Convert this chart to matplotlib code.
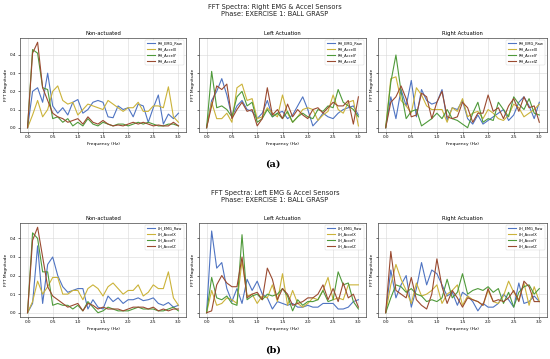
import numpy as np
import matplotlib
matplotlib.use("Agg")
import matplotlib.pyplot as plt

freq = [round(0.1 * i, 1) for i in range(31)]

# ---- Right-hand sensors ----
rh_non_emg = [0, 0.20, 0.22, 0.14, 0.30, 0.12, 0.08, 0.11, 0.07, 0.14, 0.155, 0.08, 0.10, 0.14, 0.15, 0.14, 0.06, 0.055, 0.12, 0.10, 0.11, 0.06, 0.13, 0.12, 0.03, 0.11, 0.18, 0.02, 0.075, 0.05, 0.08]
rh_non_x = [0, 0.07, 0.15, 0.06, 0.10, 0.20, 0.23, 0.15, 0.13, 0.14, 0.07, 0.10, 0.13, 0.12, 0.11, 0.10, 0.15, 0.13, 0.11, 0.09, 0.11, 0.11, 0.14, 0.09, 0.09, 0.12, 0.12, 0.11, 0.225, 0.06, 0.03]
rh_non_y = [0, 0.43, 0.41, 0.22, 0.21, 0.05, 0.06, 0.03, 0.05, 0.01, 0.03, 0.01, 0.05, 0.02, 0.01, 0.03, 0.02, 0.01, 0.02, 0.02, 0.01, 0.02, 0.03, 0.02, 0.03, 0.02, 0.01, 0.01, 0.02, 0.02, 0.01]
rh_non_z = [0, 0.41, 0.47, 0.22, 0.15, 0.08, 0.06, 0.05, 0.03, 0.04, 0.05, 0.02, 0.06, 0.03, 0.02, 0.04, 0.02, 0.01, 0.015, 0.01, 0.02, 0.03, 0.02, 0.03, 0.02, 0.01, 0.015, 0.01, 0.01, 0.03, 0.01]

rh_left_emg = [0, 0.15, 0.20, 0.27, 0.18, 0.06, 0.12, 0.15, 0.10, 0.09, 0.05, 0.08, 0.15, 0.06, 0.08, 0.09, 0.05, 0.07, 0.12, 0.17, 0.10, 0.01, 0.04, 0.08, 0.06, 0.05, 0.08, 0.10, 0.11, 0.12, 0.07]
rh_left_x = [0, 0.14, 0.05, 0.05, 0.08, 0.03, 0.22, 0.24, 0.15, 0.16, 0.05, 0.06, 0.11, 0.08, 0.06, 0.18, 0.08, 0.03, 0.06, 0.10, 0.11, 0.10, 0.04, 0.07, 0.09, 0.18, 0.10, 0.08, 0.14, 0.15, 0.01]
rh_left_y = [0, 0.31, 0.11, 0.12, 0.10, 0.06, 0.17, 0.20, 0.12, 0.14, 0.03, 0.05, 0.10, 0.06, 0.08, 0.05, 0.09, 0.03, 0.06, 0.08, 0.06, 0.05, 0.10, 0.09, 0.12, 0.11, 0.21, 0.14, 0.12, 0.10, 0.06]
rh_left_z = [0, 0.12, 0.23, 0.21, 0.24, 0.05, 0.10, 0.14, 0.09, 0.10, 0.01, 0.05, 0.22, 0.07, 0.10, 0.05, 0.13, 0.06, 0.10, 0.07, 0.05, 0.10, 0.11, 0.08, 0.11, 0.14, 0.12, 0.12, 0.15, 0.02, 0.17]

rh_right_emg = [0, 0.17, 0.05, 0.21, 0.12, 0.26, 0.06, 0.21, 0.15, 0.13, 0.14, 0.21, 0.04, 0.11, 0.10, 0.15, 0.05, 0.02, 0.07, 0.02, 0.04, 0.06, 0.08, 0.10, 0.04, 0.07, 0.14, 0.17, 0.12, 0.05, 0.14]
rh_right_x = [0, 0.27, 0.28, 0.15, 0.12, 0.08, 0.22, 0.18, 0.12, 0.10, 0.10, 0.10, 0.03, 0.11, 0.09, 0.16, 0.06, 0.08, 0.09, 0.05, 0.10, 0.08, 0.05, 0.04, 0.07, 0.13, 0.11, 0.06, 0.08, 0.10, 0.13]
rh_right_y = [0, 0.25, 0.40, 0.20, 0.05, 0.09, 0.10, 0.01, 0.03, 0.05, 0.08, 0.05, 0.10, 0.05, 0.04, 0.02, 0.00, 0.08, 0.14, 0.03, 0.05, 0.04, 0.14, 0.10, 0.06, 0.17, 0.13, 0.10, 0.16, 0.08, 0.07]
rh_right_z = [0, 0.14, 0.17, 0.23, 0.16, 0.06, 0.07, 0.19, 0.17, 0.05, 0.14, 0.20, 0.06, 0.05, 0.06, 0.14, 0.11, 0.03, 0.08, 0.08, 0.18, 0.09, 0.11, 0.05, 0.12, 0.16, 0.09, 0.17, 0.11, 0.12, 0.03]

# ---- Left-hand sensors ----
lh_non_emg = [0, 0.05, 0.36, 0.05, 0.26, 0.30, 0.20, 0.14, 0.11, 0.12, 0.13, 0.13, 0.02, 0.07, 0.03, 0.02, 0.09, 0.06, 0.08, 0.05, 0.07, 0.07, 0.08, 0.065, 0.07, 0.08, 0.05, 0.04, 0.055, 0.03, 0.04]
lh_non_x = [0, 0.06, 0.17, 0.10, 0.14, 0.19, 0.19, 0.10, 0.10, 0.12, 0.12, 0.07, 0.13, 0.15, 0.13, 0.09, 0.14, 0.16, 0.13, 0.10, 0.12, 0.12, 0.15, 0.09, 0.11, 0.15, 0.13, 0.13, 0.22, 0.08, 0.04]
lh_non_y = [0, 0.43, 0.40, 0.22, 0.22, 0.04, 0.05, 0.04, 0.04, 0.02, 0.04, 0.01, 0.06, 0.03, 0.00, 0.01, 0.03, 0.02, 0.01, 0.01, 0.01, 0.02, 0.03, 0.02, 0.02, 0.02, 0.01, 0.01, 0.02, 0.03, 0.01]
lh_non_z = [0, 0.39, 0.46, 0.30, 0.14, 0.09, 0.07, 0.05, 0.03, 0.04, 0.05, 0.01, 0.05, 0.04, 0.02, 0.03, 0.02, 0.02, 0.02, 0.01, 0.02, 0.03, 0.03, 0.03, 0.02, 0.03, 0.01, 0.02, 0.01, 0.02, 0.02]

lh_left_emg = [0, 0.44, 0.24, 0.27, 0.13, 0.06, 0.13, 0.05, 0.18, 0.12, 0.17, 0.10, 0.08, 0.02, 0.06, 0.05, 0.04, 0.05, 0.03, 0.03, 0.04, 0.03, 0.03, 0.05, 0.05, 0.05, 0.02, 0.02, 0.03, 0.06, 0.07]
lh_left_x = [0, 0.12, 0.04, 0.05, 0.08, 0.07, 0.05, 0.28, 0.09, 0.10, 0.05, 0.09, 0.08, 0.15, 0.06, 0.21, 0.04, 0.12, 0.05, 0.03, 0.05, 0.08, 0.07, 0.12, 0.19, 0.07, 0.08, 0.07, 0.15, 0.15, 0.15]
lh_left_y = [0, 0.19, 0.08, 0.07, 0.09, 0.05, 0.04, 0.42, 0.07, 0.09, 0.10, 0.07, 0.10, 0.09, 0.10, 0.13, 0.09, 0.01, 0.07, 0.04, 0.06, 0.06, 0.07, 0.12, 0.06, 0.07, 0.22, 0.15, 0.16, 0.06, 0.02]
lh_left_z = [0, 0.01, 0.15, 0.20, 0.16, 0.14, 0.14, 0.30, 0.08, 0.10, 0.11, 0.07, 0.24, 0.18, 0.07, 0.13, 0.10, 0.04, 0.05, 0.06, 0.08, 0.08, 0.10, 0.15, 0.07, 0.13, 0.06, 0.16, 0.08, 0.10, 0.03]

lh_right_emg = [0, 0.23, 0.08, 0.15, 0.20, 0.03, 0.13, 0.27, 0.15, 0.23, 0.21, 0.15, 0.09, 0.11, 0.04, 0.11, 0.09, 0.06, 0.01, 0.05, 0.03, 0.03, 0.05, 0.10, 0.07, 0.03, 0.16, 0.05, 0.06, 0.09, 0.06]
lh_right_x = [0, 0.15, 0.26, 0.18, 0.12, 0.05, 0.16, 0.09, 0.10, 0.12, 0.15, 0.05, 0.10, 0.12, 0.15, 0.04, 0.09, 0.07, 0.06, 0.04, 0.12, 0.06, 0.05, 0.09, 0.17, 0.11, 0.07, 0.16, 0.04, 0.14, 0.06]
lh_right_y = [0, 0.08, 0.15, 0.14, 0.11, 0.13, 0.10, 0.09, 0.06, 0.07, 0.06, 0.08, 0.18, 0.08, 0.11, 0.21, 0.10, 0.12, 0.13, 0.12, 0.14, 0.11, 0.13, 0.05, 0.11, 0.03, 0.11, 0.14, 0.15, 0.10, 0.13]
lh_right_z = [0, 0.33, 0.12, 0.10, 0.08, 0.19, 0.07, 0.04, 0.02, 0.10, 0.29, 0.14, 0.05, 0.12, 0.08, 0.03, 0.08, 0.07, 0.06, 0.04, 0.13, 0.06, 0.07, 0.06, 0.08, 0.12, 0.06, 0.17, 0.14, 0.06, 0.06]

panel_titles = ["Non-actuated", "Left Actuation", "Right Actuation"]
rh_labels = ["RH_EMG_Raw", "RH_AccelX", "RH_AccelY", "RH_AccelZ"]
lh_labels = ["LH_EMG_Raw", "LH_AccelX", "LH_AccelY", "LH_AccelZ"]
suptitles = ["FFT Spectra: Right EMG & Accel Sensors", "FFT Spectra: Left EMG & Accel Sensors"]
phase_text = "Phase: EXERCISE 1: BALL GRASP"
captions = ["(a)", "(b)"]

rh_data = [[rh_non_emg, rh_non_x, rh_non_y, rh_non_z],
           [rh_left_emg, rh_left_x, rh_left_y, rh_left_z],
           [rh_right_emg, rh_right_x, rh_right_y, rh_right_z]]
lh_data = [[lh_non_emg, lh_non_x, lh_non_y, lh_non_z],
           [lh_left_emg, lh_left_x, lh_left_y, lh_left_z],
           [lh_right_emg, lh_right_x, lh_right_y, lh_right_z]]

colors = ["#4f74c2", "#cbb33a", "#4f9a3a", "#9a4a30"]

W, H = 550, 359
fig = plt.figure(figsize=(5.5, 3.59), dpi=100)

def fx(px):
    return px / W

def fy(py):
    return 1 - py / H

col_lefts = [20, 199, 378]
col_widths = [166, 167, 169]

rows = [
    dict(top=38, bottom=132, data=rh_data, labels=rh_labels, st=suptitles[0],
         st_y=(7, 14), ylab_x=None, cap=captions[0], cap_y=164, xl_y=143),
    dict(top=223, bottom=317, data=lh_data, labels=lh_labels, st=suptitles[1],
         st_y=(193, 200), ylab_x=None, cap=captions[1], cap_y=350, xl_y=327),
]

for r in rows:
    axes = []
    for c in range(3):
        ax = fig.add_axes([fx(col_lefts[c]), fy(r["bottom"]), fx(col_widths[c]),
                           (r["bottom"] - r["top"]) / H],
                          sharey=axes[0] if axes else None)
        axes.append(ax)
        for s, lab, colr in zip(r["data"][c], r["labels"], colors):
            ax.plot(freq, s, color=colr, lw=0.8, label=lab)
        ax.set_title(panel_titles[c], fontsize=3.8, pad=2)
        ax.set_xlabel("Frequency (Hz)", fontsize=3.2, labelpad=1.5)
        ax.set_ylabel("FFT Magnitude", fontsize=3.2, labelpad=1.5)
        ax.grid(True, color="#d8d8d8", lw=0.4)
        ax.set_axisbelow(True)
        ax.set_xticks([0, 0.5, 1.0, 1.5, 2.0, 2.5, 3.0])
        ax.set_yticks([0.0, 0.1, 0.2, 0.3, 0.4])
        ax.tick_params(labelsize=3.0, length=1.5, width=0.4, pad=1)
        if c > 0:
            ax.tick_params(labelleft=False)
        for sp in ax.spines.values():
            sp.set_linewidth(0.5)
            sp.set_color("#444444")
        leg = ax.legend(loc="upper right", fontsize=2.6, frameon=True,
                        handlelength=2.2, borderpad=0.5, labelspacing=0.5)
        leg.get_frame().set_linewidth(0.3)
    fig.text(0.5, fy(r["st_y"][0]), r["st"], ha="center", va="center", fontsize=4.8, color="#222222")
    fig.text(0.5, fy(r["st_y"][1]), phase_text, ha="center", va="center", fontsize=4.8, color="#222222")
    fig.text(fx(273), fy(r["cap_y"]), r["cap"], ha="center", va="center", fontsize=7,
             family="DejaVu Serif", weight="bold")

fig.savefig("out.png", dpi=100)
